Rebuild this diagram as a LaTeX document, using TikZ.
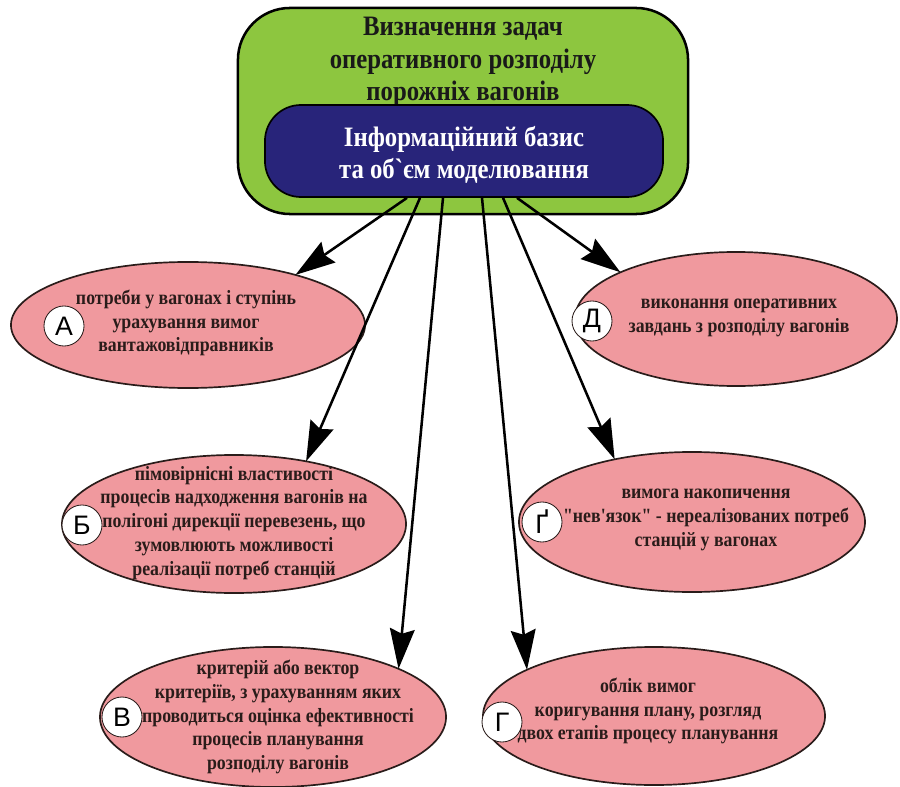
\documentclass[tikz,border=0pt]{standalone}
\usepackage{fontspec}
\setmainfont{Liberation Serif}[Ligatures=TeXOff]
\newfontfamily\narrowserif{Liberation Serif}[FakeStretch=0.88, Ligatures=TeXOff]
\newfontfamily\lettersans{Liberation Sans}
\usepackage{tikz}
\usetikzlibrary{shapes.geometric, arrows.meta, positioning, calc}
\definecolor{taskgreen}{RGB}{141,198,63}
\definecolor{infonavy}{RGB}{40,36,122}
\definecolor{factorpink}{RGB}{240,153,158}
\definecolor{inkdark}{RGB}{42,28,26}

\begin{document}
\begin{tikzpicture}[x=0.025cm, y=-0.025cm,
            task_box/.style={rectangle, rounded corners=1.3cm, draw=black, line width=1.8pt, fill=taskgreen, minimum width=11.25cm, minimum height=5.15cm},
            info_box/.style={rectangle, rounded corners=0.9cm, draw=black, line width=1.2pt, fill=infonavy, minimum width=9.95cm, minimum height=2.3cm},
            title_text/.style={align=center, font=\narrowserif\bfseries\fontsize{20}{23}\selectfont, text=black!90},
            factor/.style={ellipse, draw=inkdark, line width=1.2pt, fill=factorpink, inner sep=0pt, outer sep=0pt},
            factor_text/.style={align=center, font=\narrowserif\bfseries\fontsize{14.4}{17}\selectfont, text=inkdark},
            letter/.style={circle, draw=inkdark, line width=0.6pt, fill=white, minimum size=1cm, inner sep=0pt, font=\lettersans\fontsize{19}{19}\selectfont},
            feed/.style={-{Stealth[length=1cm, width=0.62cm, inset=0.12cm]}, line width=1.8pt}
        ]
\useasboundingbox (0,0) rectangle (900,787);

% Task frame
            \node[task_box] (task) at (463,111) {};
            \node[title_text] (task_title) at (463,62) {Визначення задач\\оперативного розподілу\\порожніх вагонів};
            \node[info_box] (info) at (464,151) {};
            \node[title_text, text=white] (info_title) at (464,155) {Інформаційний базис\\та об`єм моделювання};

% Factors
            \node[factor, minimum width=8.85cm, minimum height=3.15cm] (needs) at (188,325) {};
            \node[factor_text] (needs_text) at (186,323) {потреби у вагонах і ступінь\\урахування вимог\\вантажовідправників};
            \node[letter] (needs_mark) at (64,326) {А};

            \node[factor, minimum width=8.05cm, minimum height=3.35cm] (tasks) at (736,319) {};
            \node[factor_text] (tasks_text) at (739,318) {виконання оперативних\\завдань з розподілу вагонів};
            \node[letter] (tasks_mark) at (592,321) {Д};

            \node[factor, minimum width=8.6cm, minimum height=3.45cm] (arrival) at (234,524) {};
            \node[factor_text] (arrival_text) at (234,523) {пімовірнісні властивості\\процесів надходження вагонів на\\полігоні дирекції перевезень, що\\зумовлюють можливості\\реалізації потреб станцій};
            \node[letter] (arrival_mark) at (82,525) {Б};

            \node[factor, minimum width=8.65cm, minimum height=3.5cm] (gaps) at (692,522) {};
            \node[factor_text] (gaps_text) at (706,520) {вимога накопичення\\"нев'язок" - нереалізованих потреб\\станцій у вагонах};
            \node[letter] (gaps_mark) at (542,522) {Ґ};

            \node[factor, minimum width=8.65cm, minimum height=3.5cm] (criteria) at (273,717) {};
            \node[factor_text] (criteria_text) at (278,717) {критерій або вектор\\критеріїв, з урахуванням яких\\проводиться оцінка ефективності\\процесів планування\\розподілу вагонів};
            \node[letter] (criteria_mark) at (122,717) {В};

            \node[factor, minimum width=8.55cm, minimum height=3.45cm] (account) at (654,716) {};
            \node[factor_text] (account_text) at (648,711) {облік вимог\\коригування плану, розгляд\\двох етапів процесу планування};
            \node[letter] (account_mark) at (502,722) {Г};

% Links from the information basis
            \draw[feed] ($(info.south)+(-57,0)$) -- (needs.25);
            \draw[feed] ($(info.south)+(-44,0)$) -- (arrival.41);
            \draw[feed] ($(info.south)+(-21,0)$) -- (criteria.21);
            \draw[feed] ($(info.south)+(18,0)$) -- (account.160);
            \draw[feed] ($(info.south)+(39,0)$) -- (gaps.141);
            \draw[feed] ($(info.south)+(53,0)$) -- (tasks.158);

        \end{tikzpicture}
\end{document}
